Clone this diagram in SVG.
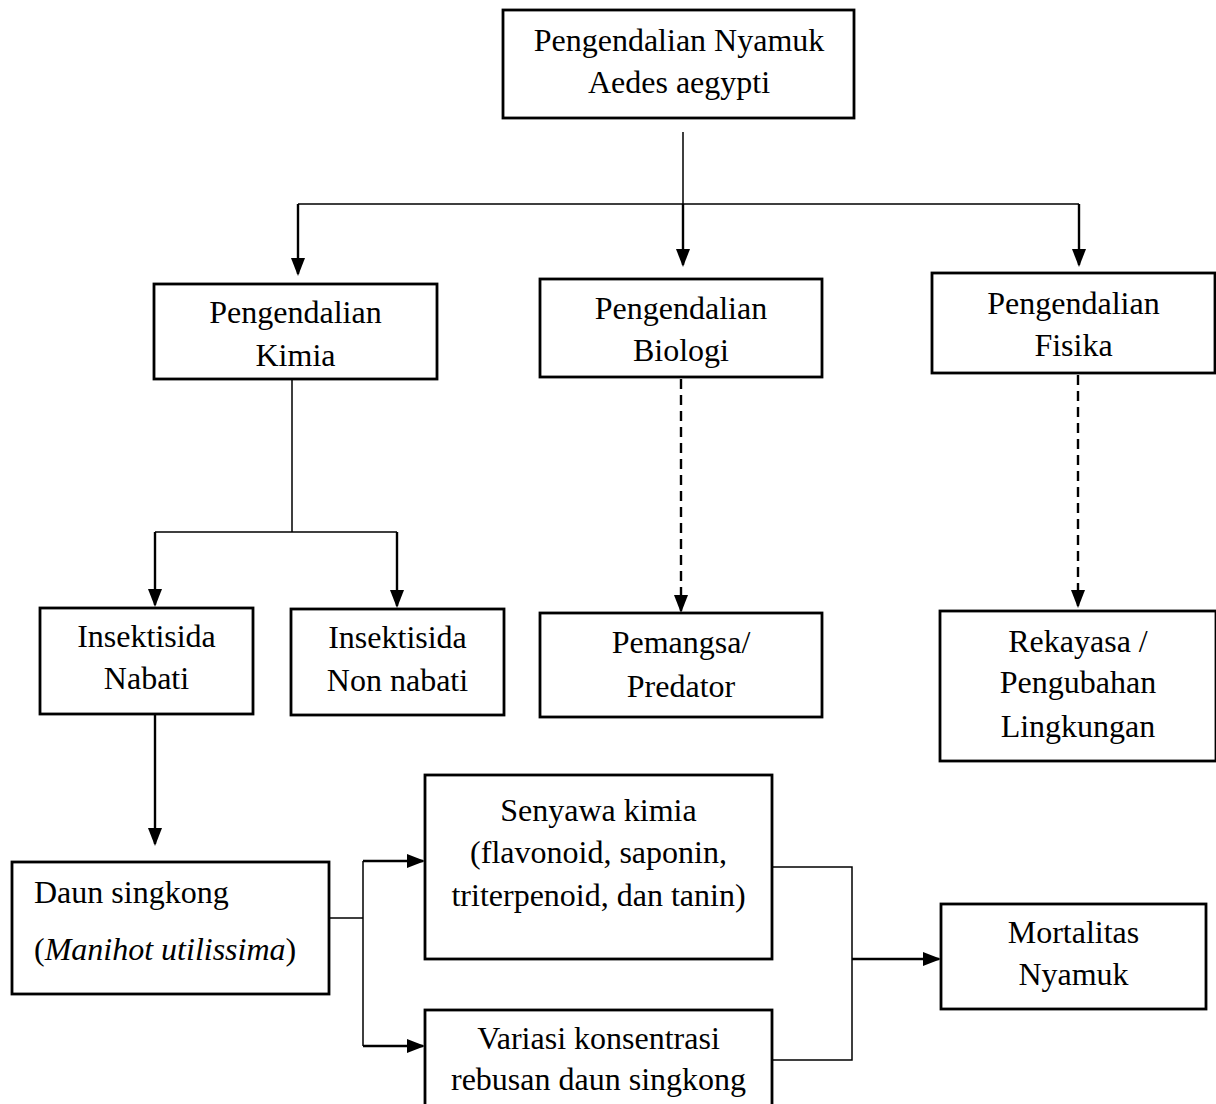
<svg xmlns="http://www.w3.org/2000/svg" width="1216" height="1104" viewBox="0 0 1216 1104">
<style>
.box{fill:#fff;stroke:#000;stroke-width:2.8}
.t{font-family:"Liberation Serif","Times New Roman",serif;font-size:32px;fill:#000;text-anchor:middle}
.tl{font-family:"Liberation Serif","Times New Roman",serif;font-size:32px;fill:#000;text-anchor:start}
.thin{fill:none;stroke:#000;stroke-width:1.5}
.arr{fill:none;stroke:#000;stroke-width:2.4;marker-end:url(#ah)}
.dash{fill:none;stroke:#000;stroke-width:2.4;stroke-dasharray:10 6;marker-end:url(#ah)}
</style>
<defs>
<marker id="ah" viewBox="0 0 18 14" refX="16" refY="7" markerWidth="18" markerHeight="14" markerUnits="userSpaceOnUse" orient="auto">
<path d="M0,0 L18,7 L0,14 z" fill="#000"/>
</marker>
</defs>
<rect width="1216" height="1104" fill="#fff"/>
<g id="connectors">
<path class="thin" d="M683,132 V204 M298,204 H1079"/>
<path class="arr" d="M298,204 V274"/>
<path class="arr" d="M683,204 V265"/>
<path class="arr" d="M1079,204 V265"/>
<path class="thin" d="M292,379 V532 M155,532 H397"/>
<path class="arr" d="M155,532 V605"/>
<path class="arr" d="M397,532 V606"/>
<path class="dash" d="M681,379 V611"/>
<path class="dash" d="M1078,375 V606"/>
<path class="arr" d="M155,715 V844"/>
<path class="thin" d="M329,918 H363 M363,861 V1046"/>
<path class="arr" d="M363,861 H423"/>
<path class="arr" d="M363,1046 H423"/>
<path class="thin" d="M772,867 H852 V1060 H772"/>
<path class="arr" d="M852,959 H939"/>
</g>
<g id="n-top">
<rect class="box" x="503" y="10" width="351" height="108"/>
<text class="t" x="679" y="51">Pengendalian Nyamuk</text>
<text class="t" x="679" y="93">Aedes aegypti</text>
</g>
<g id="n-kimia">
<rect class="box" x="154" y="284" width="283" height="95"/>
<text class="t" x="295.5" y="323">Pengendalian</text>
<text class="t" x="295.5" y="366">Kimia</text>
</g>
<g id="n-biologi">
<rect class="box" x="540" y="279" width="282" height="98"/>
<text class="t" x="681" y="319">Pengendalian</text>
<text class="t" x="681" y="361">Biologi</text>
</g>
<g id="n-fisika">
<rect class="box" x="932" y="273" width="283" height="100"/>
<text class="t" x="1073.5" y="314">Pengendalian</text>
<text class="t" x="1073.5" y="356">Fisika</text>
</g>
<g id="n-nabati">
<rect class="box" x="40" y="608" width="213" height="106"/>
<text class="t" x="146.5" y="647">Insektisida</text>
<text class="t" x="146.5" y="689">Nabati</text>
</g>
<g id="n-nonnabati">
<rect class="box" x="291" y="609" width="213" height="106"/>
<text class="t" x="397.5" y="648">Insektisida</text>
<text class="t" x="397.5" y="691">Non nabati</text>
</g>
<g id="n-pemangsa">
<rect class="box" x="540" y="613" width="282" height="104"/>
<text class="t" x="681" y="653">Pemangsa/</text>
<text class="t" x="681" y="697">Predator</text>
</g>
<g id="n-rekayasa">
<rect class="box" x="940" y="611" width="276" height="150"/>
<text class="t" x="1078" y="652">Rekayasa /</text>
<text class="t" x="1078" y="693">Pengubahan</text>
<text class="t" x="1078" y="737">Lingkungan</text>
</g>
<g id="n-daun">
<rect class="box" x="12" y="862" width="317" height="132"/>
<text class="tl" x="34" y="903">Daun singkong</text>
<text class="tl" x="34" y="960">(<tspan font-style="italic">Manihot utilissima</tspan>)</text>
</g>
<g id="n-senyawa">
<rect class="box" x="425" y="775" width="347" height="184"/>
<text class="t" x="598.5" y="821">Senyawa kimia</text>
<text class="t" x="598.5" y="863">(flavonoid, saponin,</text>
<text class="t" x="598.5" y="906">triterpenoid, dan tanin)</text>
</g>
<g id="n-variasi">
<rect class="box" x="425" y="1010" width="347" height="110"/>
<text class="t" x="598.5" y="1049">Variasi konsentrasi</text>
<text class="t" x="598.5" y="1090">rebusan daun singkong</text>
</g>
<g id="n-mortalitas">
<rect class="box" x="941" y="904" width="265" height="105"/>
<text class="t" x="1073.5" y="943">Mortalitas</text>
<text class="t" x="1073.5" y="985">Nyamuk</text>
</g>
</svg>
